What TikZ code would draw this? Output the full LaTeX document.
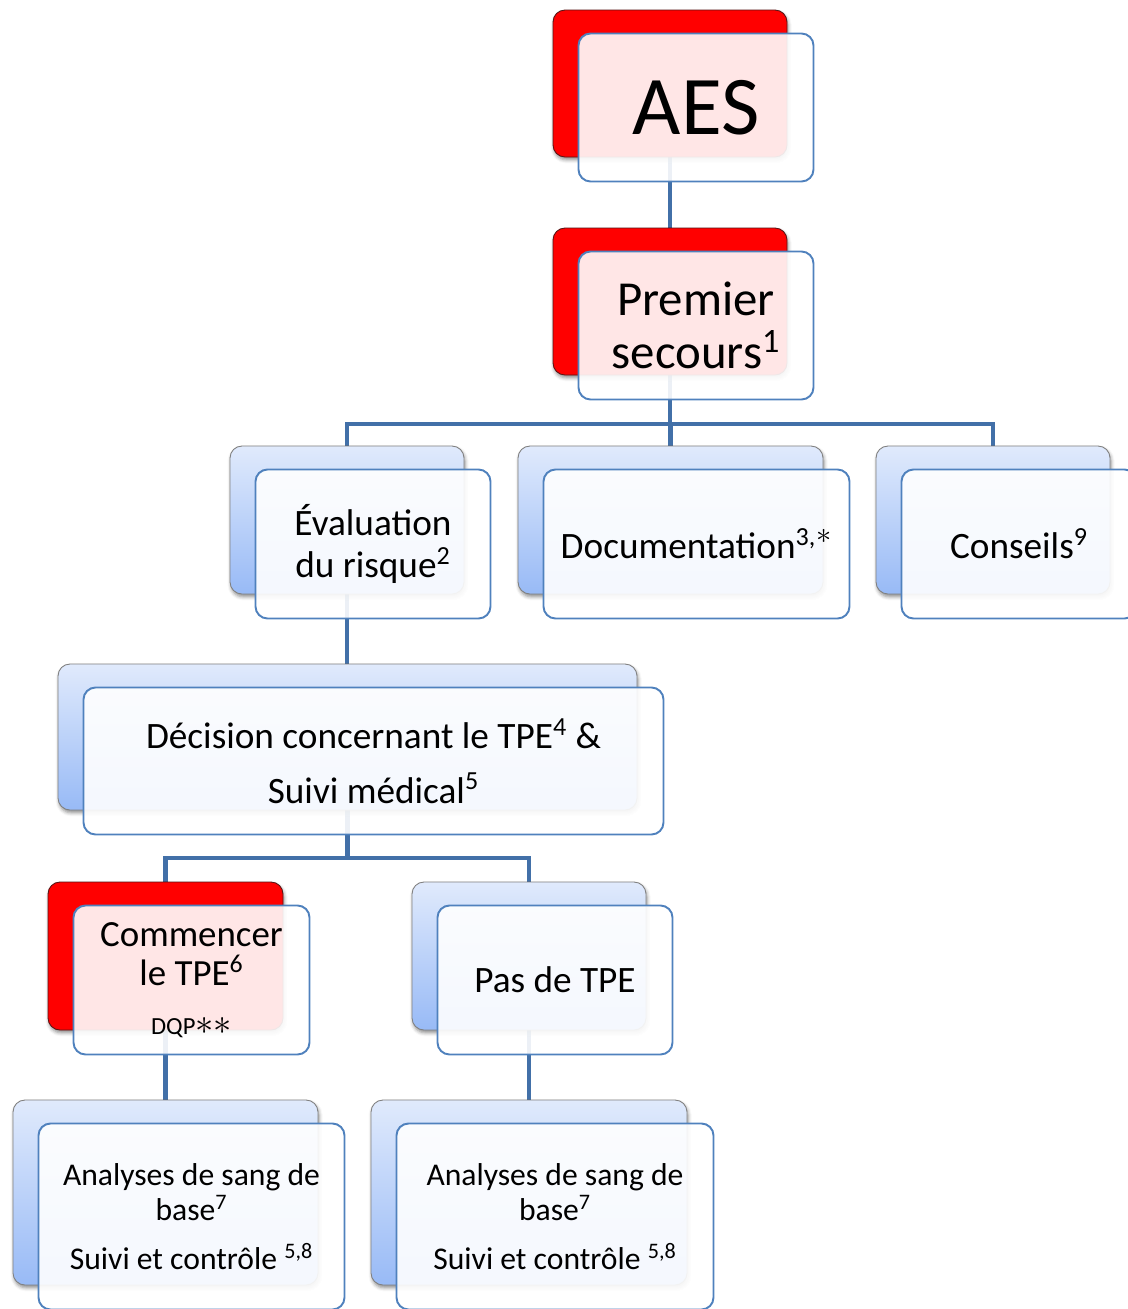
\documentclass[tikz,border=0pt]{standalone}
\usepackage{fontspec}
\setmainfont{Carlito}
\usetikzlibrary{shadows.blur,backgrounds,calc}
\definecolor{conn}{RGB}{66,112,168}
\definecolor{frontline}{RGB}{79,129,189}
\definecolor{bluetop}{RGB}{224,234,252}
\definecolor{bluebot}{RGB}{152,186,246}
\definecolor{redline}{RGB}{90,20,20}
\newcommand\supnum[1]{\textsuperscript{\upshape #1}}
\tikzset{
  backbase/.style={rounded corners=0.24cm, inner sep=0pt, outer sep=0pt,
    blur shadow={shadow xshift=0.6pt, shadow yshift=-1.6pt, shadow blur radius=2pt, shadow opacity=45}},
  backred/.style={backbase, draw=redline, line width=0.5pt, fill=red},
  backblue/.style={backbase, draw=gray, line width=0.5pt, top color=bluetop, bottom color=bluebot},
  frontbox/.style={draw=frontline, line width=1.1pt, rounded corners=0.24cm, fill=white,
    fill opacity=0.9, text opacity=1, inner sep=1pt, outer sep=0pt, align=center},
  connector/.style={draw=conn, line width=2.5pt},
  fAES/.style={font=\fontsize{47.5}{50}\selectfont},
  fPrem/.style={font=\fontsize{27.8}{30}\selectfont},
  fLvl/.style={font=\fontsize{21.2}{24.4}\selectfont},
  fDec/.style={font=\fontsize{21.2}{31}\selectfont},
  fCom/.style={font=\fontsize{21}{22.7}\selectfont},
  fAna/.style={font=\fontsize{18}{19.8}\selectfont},
}
% #1 name, #2 back style, #3 x1, #4 y1, #5 x2, #6 y2, #7 front style, #8 text
\newcommand\pairbox[8]{%
  \node[#2, minimum width={(#5-#3)*0.02cm}, minimum height={(#6-#4)*0.02cm}]
    (#1B) at ({(#3+#5)/2},{(#4+#6)/2}) {};
  \node[frontbox, #7, minimum width={(#5-#3+1)*0.02cm}, minimum height={(#6-#4+1)*0.02cm}]
    (#1) at ({(#3+#5)/2+26},{(#4+#6)/2+24}) {#8};
}
\begin{document}
\begin{tikzpicture}[x=0.02cm,y=-0.02cm]
\useasboundingbox (0,0) rectangle (1128,1309);

\pairbox{aes}{backred}{553}{10}{787}{157}{fAES}{AES}
\pairbox{prem}{backred}{553}{228}{787}{375}{fPrem}{Premier\\secours\supnum{1}}
\pairbox{eval}{backblue}{230}{446}{464}{594}{fLvl}{Évaluation\\du risque\supnum{2}}
\pairbox{doc}{backblue}{518}{446}{823}{594}{fLvl}{Documentation\supnum{3,}{\fontsize{24}{24}\selectfont$^{\ast}$}}
\pairbox{cons}{backblue}{876}{446}{1110}{594}{fLvl}{Conseils\supnum{9}}
\pairbox{dec}{backblue}{58}{664}{637}{810}{fDec}{Décision concernant le TPE\supnum{4} \&\\Suivi médical\supnum{5}}
\pairbox{com}{backred}{48}{882}{283}{1030}{fCom}{Commencer\\le TPE\supnum{6}\\[5pt]{\fontsize{14}{15}\selectfont DQP{\fontsize{20}{15}\selectfont$\ast\ast$}}}
\pairbox{pas}{backblue}{412}{882}{646}{1030}{fLvl}{Pas de TPE}
\pairbox{anaL}{backblue}{13}{1100}{318}{1285}{fAna}{Analyses de sang de\\base\supnum{7}\\[8pt]Suivi et contrôle \supnum{5,8}}
\pairbox{anaR}{backblue}{371}{1100}{687}{1285}{fAna}{Analyses de sang de\\base\supnum{7}\\[8pt]Suivi et contrôle \supnum{5,8}}

\begin{scope}[on background layer]
\draw[connector] (aesB.south) -- (premB.north);
\draw[connector] (premB.south) -- ++(0,49) -| (evalB.north);
\draw[connector] (premB.south) -- ++(0,49) -| (docB.north);
\draw[connector] (premB.south) -- ++(0,49) -| (consB.north);
\draw[connector] (evalB.south) -- (evalB.south |- decB.north);
\draw[connector] (decB.south) -- ++(0,48) -| (comB.north);
\draw[connector] (decB.south) -- ++(0,48) -| (pasB.north);
\draw[connector] (comB.south) -- (anaLB.north);
\draw[connector] (pasB.south) -- (anaRB.north);
\end{scope}
\end{tikzpicture}
\end{document}
